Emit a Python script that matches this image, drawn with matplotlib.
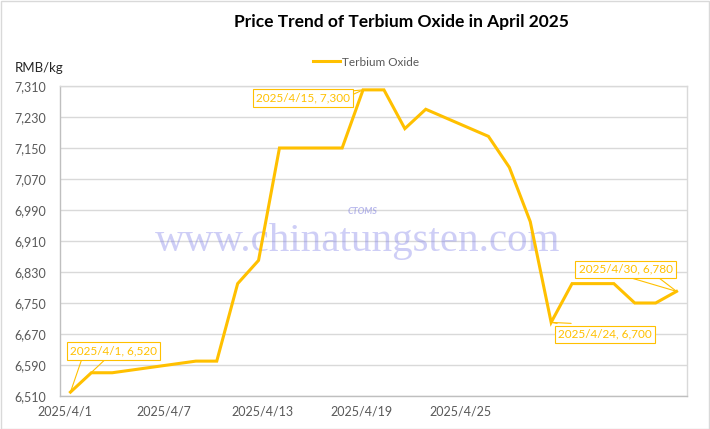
import matplotlib.pyplot as plt
from matplotlib.patches import Rectangle

# days of April 2025 that have a quote, and the price on each day (RMB/kg)
days = [1, 2, 3, 7, 8, 9, 10, 11, 14, 15, 16, 17, 18, 21, 22, 23, 24, 25, 27, 28, 29, 30]
prices = [6520, 6570, 6570, 6600, 6600, 6800, 6860, 7150, 7150, 7300, 7300, 7200,
          7250, 7180, 7100, 6960, 6700, 6800, 6800, 6750, 6750, 6780]

y_ticks = [6510, 6590, 6670, 6750, 6830, 6910, 6990, 7070, 7150, 7230, 7310]
x_tick_labels = ['2025/4/1', '2025/4/7', '2025/4/13', '2025/4/19', '2025/4/25']
x_tick_pos = [0.71, 5.45, 10.19, 14.93, 19.67]

# callouts: (day, price, label text)
callouts = [(1, 6520, '2025/4/1, 6,520'),
            (15, 7300, '2025/4/15, 7,300'),
            (24, 6700, '2025/4/24, 6,700'),
            (30, 6780, '2025/4/30, 6,780')]
# box centre offset and pointer base offsets, in pixels
callout_geom = [((43, 41), [(11, 32), (34, 32)]),
                ((-60, -8), [(-11, -1), (-11, -5)]),
                ((54, -12), [(6, -1), (20, -1)]),
                ((-51, 22), [(-44, 13), (-17, 13)])]

GOLD = '#FFC000'
GRID = '#d9d9d9'
TEXT = '#595959'

plt.rcParams['font.family'] = ['Lato', 'DejaVu Sans']

fig = plt.figure(figsize=(7.1, 4.29), dpi=100)
ax = fig.add_axes([60 / 710, 1 - 396 / 429, 627 / 710, 310 / 429])

ax.plot(days, prices, color=GOLD, linewidth=2.2, label='Terbium Oxide', zorder=3,
        solid_joinstyle='miter')

ax.set_xlim(0.5, 30.5)
ax.set_ylim(6510, 7310)
ax.set_yticks(y_ticks)
ax.set_yticklabels([f'{v:,}' for v in y_ticks])
ax.set_xticks(x_tick_pos)
ax.set_xticklabels(x_tick_labels)
ax.tick_params(length=0, labelsize=9, labelcolor=TEXT)
ax.tick_params(axis='x', pad=7)
ax.tick_params(axis='y', pad=10)
ax.grid(axis='y', color=GRID, linewidth=1)
ax.set_axisbelow(True)
for name, sp in ax.spines.items():
    sp.set_color(GRID)
    sp.set_linewidth(1)
ax.spines['left'].set_color('#bfbfbf')
ax.spines['bottom'].set_color('#bfbfbf')

# watermark
ax.text(0.475, 0.5, 'www.chinatungsten.com', transform=ax.transAxes, ha='center', va='center',
        fontsize=29.5, family='Liberation Serif', color='#8585ea', alpha=0.4, zorder=1)
ax.text(0.483, 0.594, 'CTOMS', transform=ax.transAxes, ha='center', va='center',
        fontsize=6.5, fontstyle='italic', fontweight='bold', color='#8a8ae0', alpha=0.6, zorder=1)

for (d, p, label), (box_off, bases) in zip(callouts, callout_geom):
    for b in bases:
        ax.annotate('', xy=(d, p), xytext=b, textcoords='offset pixels',
                    arrowprops=dict(arrowstyle='-', color=GOLD, lw=0.8, shrinkA=0, shrinkB=0),
                    zorder=4)
    ax.annotate(label, xy=(d, p), xytext=box_off, textcoords='offset pixels',
                ha='center', va='center', fontsize=8.5, color=GOLD, zorder=5,
                bbox=dict(boxstyle='square,pad=0.28', fc='white', ec=GOLD, lw=0.8))

fig.text(401 / 710, 1 - 22 / 429, 'Price Trend of Terbium Oxide in April 2025',
         ha='center', va='center', fontsize=12.5, fontweight='bold', color='black')
fig.text(15 / 710, 1 - 68 / 429, 'RMB/kg', ha='left', va='center', fontsize=9.5, color='#262626')

ax.legend(loc='center', bbox_to_anchor=(366 / 710, 1 - 62 / 429), bbox_transform=fig.transFigure,
          frameon=False, fontsize=8.5, handlelength=2.3, handletextpad=0.2, labelcolor=TEXT)

fig.patches.append(Rectangle((0.001, 0.001), 0.997, 0.996, transform=fig.transFigure,
                             fill=False, edgecolor=GRID, linewidth=1))

fig.savefig('out.png', dpi=100)
